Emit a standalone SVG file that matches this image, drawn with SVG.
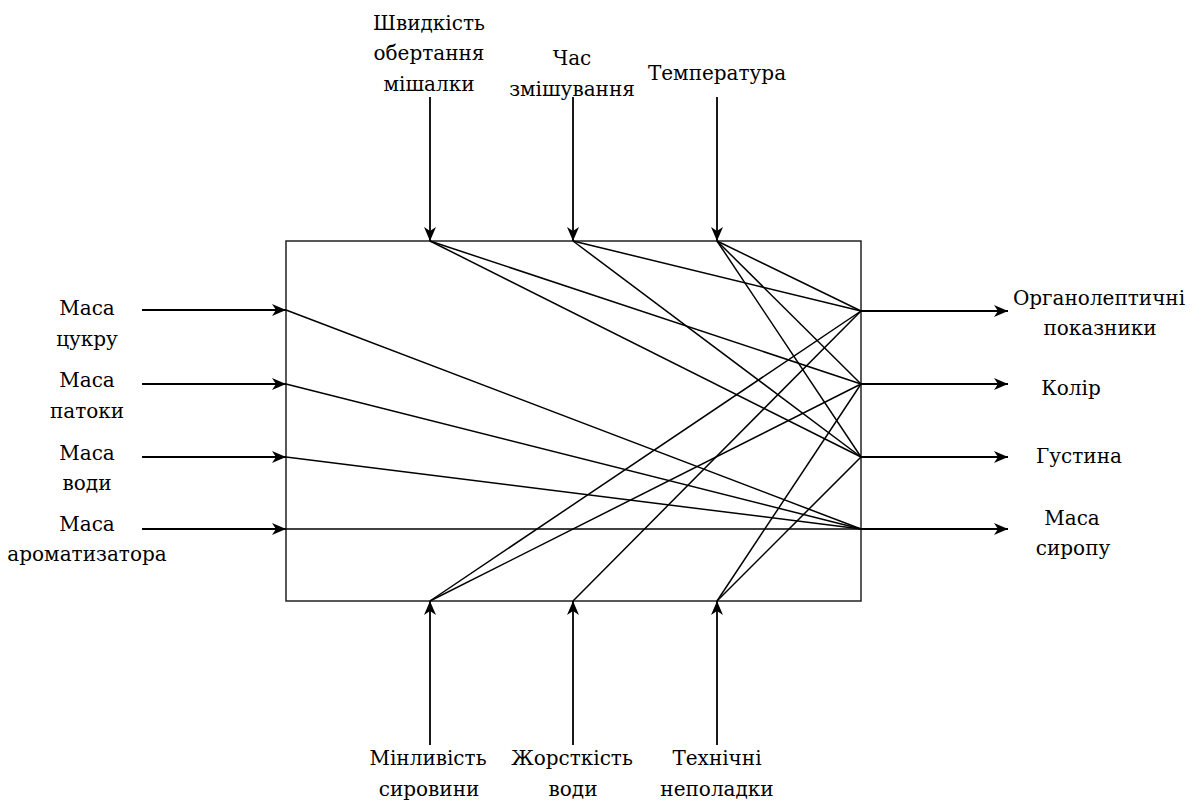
<svg xmlns="http://www.w3.org/2000/svg" width="1203" height="805" viewBox="0 0 1203 805">
<style>
text{font-family:'DejaVu Serif',serif;font-size:20px;fill:#000;text-anchor:middle}
.arr{stroke:#000;stroke-width:1.8;fill:none;marker-end:url(#ah)}
.ln{stroke:#000;stroke-width:1.5;fill:none}
.box{stroke:#222;stroke-width:1.5;fill:#fff}
</style>
<defs>
<marker id="ah" markerUnits="userSpaceOnUse" viewBox="0 0 14 12" markerWidth="14" markerHeight="12" refX="14" refY="6" orient="auto">
<path d="M0,0 L14,6 L0,12 L4,6 z" fill="#000"/>
</marker>
</defs>
<g id="process"><rect class="box" x="286" y="241" width="575" height="360"/></g>
<g id="connectors">
<line class="arr" x1="430" y1="97" x2="430" y2="241"/>
<line class="arr" x1="573" y1="97" x2="573" y2="241"/>
<line class="arr" x1="717" y1="97" x2="717" y2="241"/>
<line class="arr" x1="430" y1="745" x2="430" y2="601"/>
<line class="arr" x1="573" y1="745" x2="573" y2="601"/>
<line class="arr" x1="717" y1="745" x2="717" y2="601"/>
<line class="arr" x1="142" y1="310" x2="286" y2="310"/>
<line class="arr" x1="142" y1="384" x2="286" y2="384"/>
<line class="arr" x1="142" y1="457" x2="286" y2="457"/>
<line class="arr" x1="142" y1="529" x2="286" y2="529"/>
<line class="arr" x1="861" y1="311" x2="1008" y2="311"/>
<line class="arr" x1="861" y1="384" x2="1008" y2="384"/>
<line class="arr" x1="861" y1="457" x2="1008" y2="457"/>
<line class="arr" x1="861" y1="529" x2="1008" y2="529"/>
<line class="ln" x1="286" y1="310" x2="861" y2="529"/>
<line class="ln" x1="286" y1="384" x2="861" y2="529"/>
<line class="ln" x1="286" y1="457" x2="861" y2="529"/>
<line class="ln" x1="286" y1="529" x2="861" y2="529"/>
<line class="ln" x1="430" y1="241" x2="861" y2="384"/>
<line class="ln" x1="430" y1="241" x2="861" y2="457"/>
<line class="ln" x1="573" y1="241" x2="861" y2="311"/>
<line class="ln" x1="573" y1="241" x2="861" y2="457"/>
<line class="ln" x1="717" y1="241" x2="861" y2="311"/>
<line class="ln" x1="717" y1="241" x2="861" y2="384"/>
<line class="ln" x1="717" y1="241" x2="861" y2="457"/>
<line class="ln" x1="430" y1="601" x2="861" y2="311"/>
<line class="ln" x1="430" y1="601" x2="861" y2="384"/>
<line class="ln" x1="573" y1="601" x2="861" y2="311"/>
<line class="ln" x1="717" y1="601" x2="861" y2="384"/>
<line class="ln" x1="717" y1="601" x2="861" y2="457"/>
</g>
<g id="in-speed"><text x="429" y="30">Швидкість</text><text x="429" y="60">обертання</text><text x="429" y="91">мішалки</text></g>
<g id="in-time"><text x="572" y="65">Час</text><text x="572" y="96">змішування</text></g>
<g id="in-temp"><text x="717" y="80">Температура</text></g>
<g id="in-sugar"><text x="87" y="315">Маса</text><text x="87" y="346">цукру</text></g>
<g id="in-molasses"><text x="87" y="387">Маса</text><text x="87" y="418">патоки</text></g>
<g id="in-water"><text x="87" y="460">Маса</text><text x="87" y="490">води</text></g>
<g id="in-aroma"><text x="87" y="531">Маса</text><text x="87" y="561">ароматизатора</text></g>
<g id="out-organo"><text x="1099" y="305">Органолептичні</text><text x="1100" y="335">показники</text></g>
<g id="out-color"><text x="1071" y="395">Колір</text></g>
<g id="out-density"><text x="1079" y="463">Густина</text></g>
<g id="out-mass"><text x="1072" y="525">Маса</text><text x="1073" y="555">сиропу</text></g>
<g id="d-raw"><text x="428" y="765">Мінливість</text><text x="429" y="796">сировини</text></g>
<g id="d-hard"><text x="572" y="765">Жорсткість</text><text x="573" y="796">води</text></g>
<g id="d-tech"><text x="717" y="765">Технічні</text><text x="717" y="796">неполадки</text></g>
</svg>
